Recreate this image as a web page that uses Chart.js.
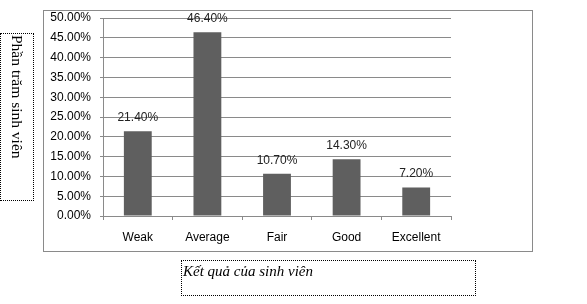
<!DOCTYPE html>
<html><head><meta charset="utf-8">
<script src="https://cdn.jsdelivr.net/npm/chart.js@4"></script>
<style>
html,body{margin:0;padding:0;background:#fff;width:587px;height:304px;overflow:hidden;}
#box{position:absolute;left:43px;top:10px;width:488px;height:240px;border:1px solid #8a8a8a;}
#c{position:absolute;left:0;top:0;}
#ytitle{position:absolute;left:0;top:33px;width:34px;height:168px;border:1px dotted #000;
 font-family:"Liberation Serif",serif;font-size:15.5px;color:#000;writing-mode:vertical-rl;
 box-sizing:border-box;padding-right:6px;padding-top:1px;line-height:20px;}
#xtitle{position:absolute;left:181px;top:260px;width:295px;height:36px;border:1px dotted #000;
 box-sizing:border-box;font-family:"Liberation Serif",serif;font-style:italic;font-size:15px;color:#000;
 padding-left:1px;padding-top:1px;line-height:18px;}
</style></head><body>
<div id="box"></div>
<canvas id="c" width="587" height="304"></canvas>
<div id="ytitle">Phần trăm sinh viên</div>
<div id="xtitle">Kết quả của sinh viên</div>
<script>
const categories = ["Weak", "Average", "Fair", "Good", "Excellent"];
const percentValues = [21.4, 46.4, 10.7, 14.3, 7.2];
const yTickMin = 0, yTickMax = 50, yTickStep = 5;

const fontFam = '"Liberation Sans", Arial, sans-serif';
const labelPlugin = {
  id: 'vals',
  afterDatasetsDraw(chart) {
    const ctx = chart.ctx;
    const meta = chart.getDatasetMeta(0);
    ctx.save();
    ctx.font = '12px ' + fontFam;
    ctx.fillStyle = '#222';
    ctx.textAlign = 'center';
    ctx.textBaseline = 'alphabetic';
    meta.data.forEach((bar, i) => {
      ctx.fillText(percentValues[i].toFixed(2) + '%', bar.x, bar.y - 10);
    });
    ctx.restore();
  }
};

new Chart(document.getElementById('c'), {
  type: 'bar',
  data: { labels: categories, datasets: [{ data: percentValues, backgroundColor: '#5f5f5f', categoryPercentage: 1, barPercentage: 0.4 }] },
  options: {
    responsive: false, animation: false,
    layout: { padding: { left: 0, top: 18, right: 136, bottom: 0 } },
    plugins: { legend: { display: false }, tooltip: { enabled: false } },
    scales: {
      x: {
        afterFit(s) { s.height = 88; },
        grid: { offset: true, drawOnChartArea: false, drawTicks: true, tickLength: 4, color: '#8a8a8a' },
        border: { color: '#8a8a8a' },
        ticks: { color: '#000', font: { family: fontFam, size: 12 }, padding: 10 }
      },
      y: {
        min: yTickMin, max: yTickMax,
        afterFit(s) { s.width = 103; },
        grid: { color: '#8a8a8a', tickLength: 3 },
        border: { color: '#8a8a8a' },
        ticks: { stepSize: yTickStep, color: '#000', font: { family: fontFam, size: 12 }, padding: 9,
          callback: v => v.toFixed(2) + '%' }
      }
    }
  },
  plugins: [labelPlugin]
});
</script>
</body></html>
